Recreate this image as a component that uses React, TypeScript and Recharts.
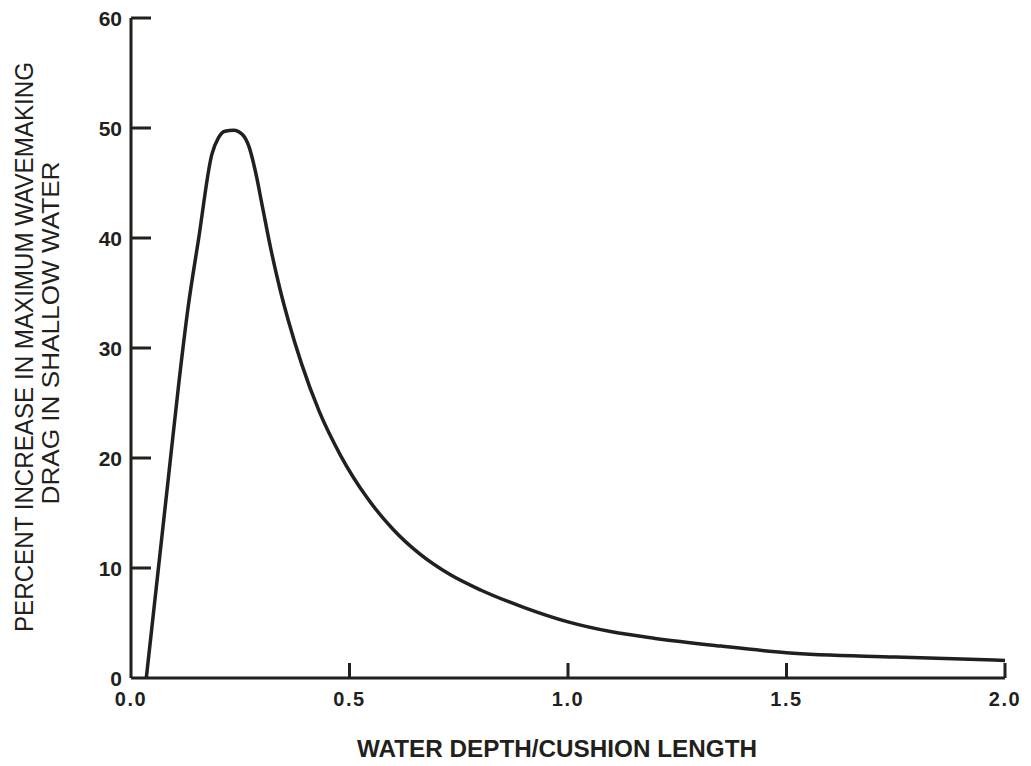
import React from "react";
import { Line, LineChart, XAxis, YAxis } from "recharts";

const depthRatio = [
  0.035, 0.06, 0.085, 0.11, 0.13, 0.155, 0.185, 0.2, 0.215, 0.235, 0.255, 0.27, 0.285, 0.3, 0.32,
  0.34, 0.36, 0.39, 0.43, 0.48, 0.54, 0.6, 0.66, 0.73, 0.8, 0.9, 1.0, 1.1, 1.2, 1.35, 1.5, 1.75, 2.0,
];
const dragIncrease = [
  0, 9, 18, 27, 33.5, 40, 47.6, 49.1, 49.7, 49.8, 49.4, 48.3, 46, 43, 39, 35.5, 32.5, 28.6, 24.3,
  20.2, 16.4, 13.5, 11.3, 9.4, 8.0, 6.4, 5.1, 4.2, 3.6, 2.9, 2.3, 1.9, 1.6,
];
const xTicks = [0, 0.5, 1, 1.5, 2];
const yTicks = [0, 10, 20, 30, 40, 50, 60];

const data = depthRatio.map((x, i) => ({ x, y: dragIncrease[i] }));

const INK = "#231f1c";
const FONT = "'Liberation Sans', Arial, Helvetica, sans-serif";

const XTick = (props: any) => {
  const { x, y, payload } = props;
  return (
    <g>
      {payload.value > 0 && (
        <line x1={x} y1={y} x2={x} y2={y - 15} stroke={INK} strokeWidth={3} />
      )}
      <text
        x={x}
        y={y + 21}
        textAnchor="middle"
        dominantBaseline="central"
        fontFamily={FONT}
        fontWeight="bold"
        fontSize={20}
        letterSpacing={1.5}
        fill={INK}
      >
        {Number(payload.value).toFixed(1)}
      </text>
    </g>
  );
};

const YTick = (props: any) => {
  const { x, y, payload } = props;
  return (
    <g>
      {payload.value > 0 && (
        <line x1={x} y1={y} x2={x + 20} y2={y} stroke={INK} strokeWidth={3} />
      )}
      <text
        x={x - 9}
        y={y}
        textAnchor="end"
        dominantBaseline="central"
        fontFamily={FONT}
        fontWeight="bold"
        fontSize={21}
        fill={INK}
      >
        {payload.value}
      </text>
    </g>
  );
};

export default function App() {
  return (
    <div style={{ position: "absolute", left: 0, top: 0, background: "#fff" }}>
      <LineChart
        width={1031}
        height={766}
        data={data}
        margin={{ top: 18, right: 26, bottom: 28, left: 71 }}
      >
        <XAxis
          type="number"
          dataKey="x"
          domain={[0, 2]}
          ticks={xTicks}
          height={60}
          tickSize={0}
          tickMargin={0}
          tickLine={false}
          axisLine={{ stroke: INK, strokeWidth: 3 }}
          tick={<XTick />}
          interval={0}
        />
        <YAxis
          type="number"
          domain={[0, 60]}
          ticks={yTicks}
          width={60}
          tickSize={0}
          tickMargin={0}
          tickLine={false}
          axisLine={{ stroke: INK, strokeWidth: 3 }}
          tick={<YTick />}
          interval={0}
        />
        <Line
          type="monotone"
          dataKey="y"
          stroke={INK}
          strokeWidth={3.5}
          dot={false}
          isAnimationActive={false}
        />
        <text
          x={557}
          y={748}
          textAnchor="middle"
          dominantBaseline="central"
          fontFamily={FONT}
          fontWeight="bold"
          fontSize={24}
          textLength={400}
          lengthAdjust="spacingAndGlyphs"
          fill={INK}
        >
          WATER DEPTH/CUSHION LENGTH
        </text>
        <text
          transform="translate(24, 347) rotate(-90)"
          textAnchor="middle"
          dominantBaseline="central"
          fontFamily={FONT}
          fontSize={25}
          textLength={570}
          lengthAdjust="spacingAndGlyphs"
          fill={INK}
        >
          PERCENT INCREASE IN MAXIMUM WAVEMAKING
        </text>
        <text
          transform="translate(51, 333) rotate(-90)"
          textAnchor="middle"
          dominantBaseline="central"
          fontFamily={FONT}
          fontSize={23}
          textLength={343}
          lengthAdjust="spacingAndGlyphs"
          fill={INK}
        >
          DRAG IN SHALLOW WATER
        </text>
      </LineChart>
    </div>
  );
}
